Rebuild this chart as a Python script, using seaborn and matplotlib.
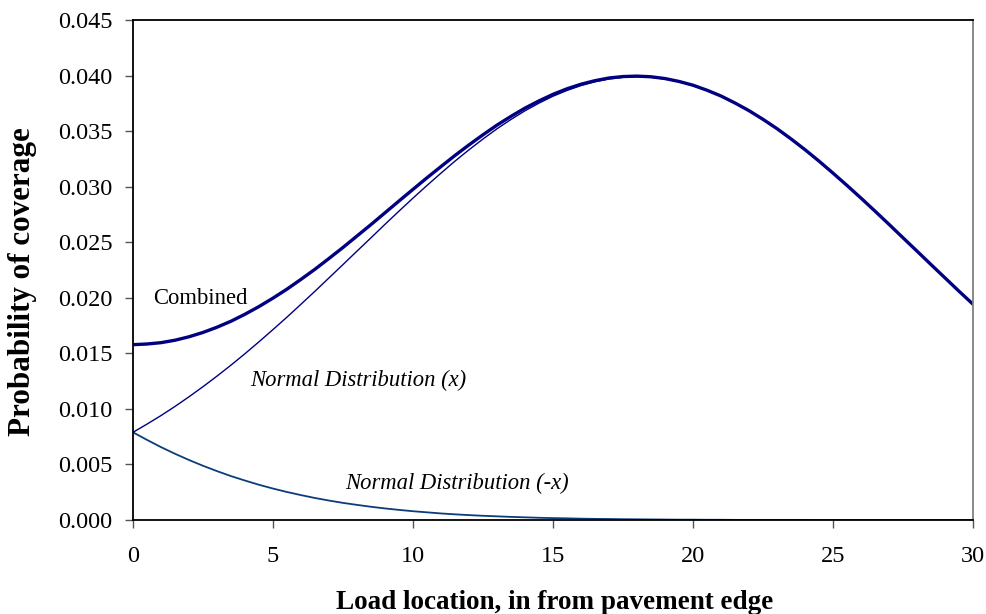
import numpy as np
import pandas as pd
import matplotlib
matplotlib.use("Agg")
import matplotlib.pyplot as plt
import seaborn as sns

# Data (load location in inches, step 0.5)
x_in = [i * 0.5 for i in range(61)]
normal_x = [0.00789, 0.00863, 0.00940, 0.01022, 0.01109, 0.01200, 0.01295, 0.01394,
            0.01497, 0.01604, 0.01714, 0.01826, 0.01942, 0.02059, 0.02179, 0.02299,
            0.02420, 0.02540, 0.02661, 0.02780, 0.02897, 0.03011, 0.03122, 0.03230,
            0.03332, 0.03429, 0.03521, 0.03605, 0.03683, 0.03752, 0.03814, 0.03866,
            0.03910, 0.03944, 0.03969, 0.03984, 0.03989,
            0.03984, 0.03969, 0.03944, 0.03910, 0.03866, 0.03814, 0.03752, 0.03683,
            0.03605, 0.03521, 0.03429, 0.03332, 0.03230, 0.03122, 0.03011, 0.02897,
            0.02780, 0.02661, 0.02540, 0.02420, 0.02299, 0.02179, 0.02059, 0.01942]
normal_negx = [0.00789, 0.00721, 0.00656, 0.00596, 0.00540, 0.00488, 0.00440, 0.00395,
               0.00355, 0.00317, 0.00283, 0.00252, 0.00224, 0.00198, 0.00175, 0.00154,
               0.00136, 0.00119, 0.00104, 0.00091, 0.00079, 0.00069, 0.00059, 0.00051,
               0.00044, 0.00038, 0.00033, 0.00028, 0.00024, 0.00020, 0.00017, 0.00015,
               0.00012, 0.00010, 0.00009, 0.00007, 0.00006, 0.00005, 0.00004, 0.00003,
               0.00003, 0.00002, 0.00002, 0.00001, 0.00001, 0.00001, 0.00001, 0.00001,
               0.00001, 0.0, 0.0, 0.0, 0.0, 0.0, 0.0, 0.0, 0.0, 0.0, 0.0, 0.0, 0.0]
combined = [0.01578, 0.01584, 0.01596, 0.01618, 0.01649, 0.01688, 0.01735, 0.01789,
            0.01852, 0.01921, 0.01997, 0.02078, 0.02166, 0.02257, 0.02354, 0.02453,
            0.02556, 0.02659, 0.02765, 0.02871, 0.02976, 0.03080, 0.03181, 0.03281,
            0.03376, 0.03467, 0.03554, 0.03633, 0.03707, 0.03772, 0.03831, 0.03881,
            0.03922, 0.03954, 0.03978, 0.03991, 0.03995,
            0.03989, 0.03973, 0.03947, 0.03913, 0.03868, 0.03816, 0.03753, 0.03684,
            0.03606, 0.03522, 0.03430, 0.03333, 0.03230, 0.03122, 0.03011, 0.02897,
            0.02780, 0.02661, 0.02540, 0.02420, 0.02299, 0.02179, 0.02059, 0.01942]
y_ticks = [0.000, 0.005, 0.010, 0.015, 0.020, 0.025, 0.030, 0.035, 0.040, 0.045]
x_ticks = [0, 5, 10, 15, 20, 25, 30]

sns.set_style("white")
plt.rcParams['font.family'] = ['Liberation Serif', 'DejaVu Serif']
plt.rcParams['text.color'] = 'black'
plt.rcParams['axes.labelcolor'] = 'black'

fig = plt.figure(figsize=(9.87, 6.14), dpi=100)
ax = fig.add_axes([133/987, 1-520/614, (973-133)/987, 500/614])

df = pd.DataFrame({"x": x_in, "nx": normal_x, "nnx": normal_negx, "c": combined})
sns.lineplot(data=df, x="x", y="nnx", ax=ax, color="#0b3d7a", linewidth=1.3)
sns.lineplot(data=df, x="x", y="nx", ax=ax, color="#000080", linewidth=1.0)
sns.lineplot(data=df, x="x", y="c", ax=ax, color="#000080", linewidth=2.4)

ax.set_xlim(0, 30)
ax.set_ylim(0, 0.045)
ax.set_xticks(x_ticks)
ax.set_xticklabels([str(v) for v in x_ticks])
ax.set_yticks(y_ticks)
ax.set_yticklabels([f"{v:.3f}" for v in y_ticks])
ax.tick_params(axis='both', direction='out', length=5.8, width=1, color='#555555',
               labelsize=17.5, labelcolor='black', left=True, bottom=True)
ax.tick_params(axis='y', pad=9)
ax.tick_params(axis='x', pad=13)

for side in ['left', 'bottom', 'top']:
    ax.spines[side].set_color('black')
    ax.spines[side].set_linewidth(1.3)
ax.spines['right'].set_color('#808080')
ax.spines['right'].set_linewidth(1.3)

ax.set_xlabel("")
ax.set_ylabel("")
fig.text(555/987, 1-609/614, "Load location, in from pavement edge", fontsize=19.5,
         fontweight='bold', ha='center', va='baseline')
fig.text(23/987, 1-282/614, "Probability of coverage", fontsize=22.4, fontweight='bold',
         rotation=90, ha='center', va='center')

ax.text(0.71, 0.0199, "Combined", fontsize=16.3, ha='left', va='center', color='black')
ax.text(4.18, 0.0126, "Normal Distribution (x)", fontsize=16.3, style='italic', ha='left', va='center', color='black')
ax.text(7.57, 0.0033, "Normal Distribution (-x)", fontsize=16.3, style='italic', ha='left', va='center', color='black')

fig.savefig("out.png", dpi=100)
